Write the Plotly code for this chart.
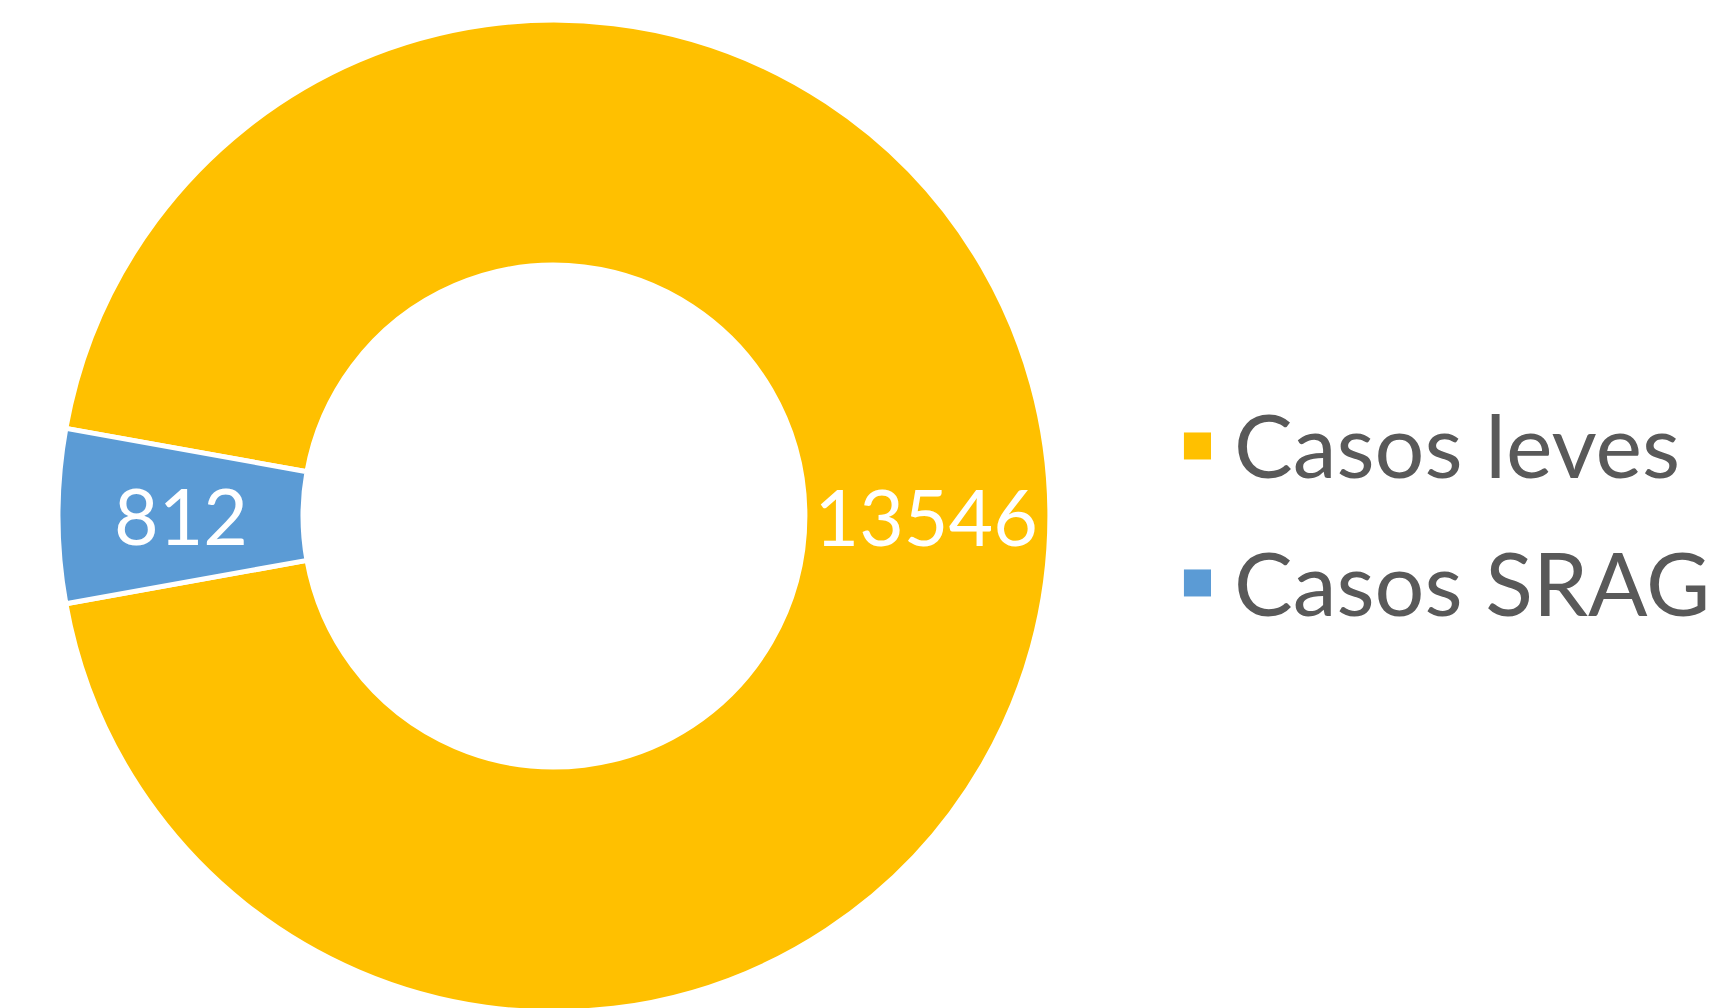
import math
import plotly.graph_objects as go

categories = ["Casos leves", "Casos SRAG"]
values = [13546, 812]
colors = ["#FFC000", "#5B9BD5"]

W, H = 1725, 1008
HOLE = 0.506
DOM_X = [0.029, 0.604]
DOM_Y = [0.004, 0.988]
LABEL_FONT = dict(family="Lato", size=77, color="white")

total = sum(values)
# center the small slice at 9 o'clock (clockwise direction, leves first)
rotation = 270 - 360 * (total - values[1] / 2) / total

fig = go.Figure()
fig.add_trace(go.Pie(
    labels=categories,
    values=values,
    sort=False,
    direction="clockwise",
    rotation=rotation,
    hole=HOLE,
    marker=dict(colors=colors, line=dict(color="white", width=5)),
    texttemplate="%{value:d}",
    textposition=["inside", "none"],
    insidetextorientation="radial",
    textfont=LABEL_FONT,
    domain=dict(x=DOM_X, y=DOM_Y),
    showlegend=False,
))

# label for the small slice placed at the middle of its ring segment
cx = (DOM_X[0] + DOM_X[1]) / 2
cy = (DOM_Y[0] + DOM_Y[1]) / 2
r_px = min((DOM_X[1] - DOM_X[0]) * W, (DOM_Y[1] - DOM_Y[0]) * H) / 2
r_mid = r_px * (1 + HOLE) / 2
cum = values[0]
ang = math.radians(rotation + 360 * (cum + values[1] / 2) / total)
fig.add_annotation(text=str(values[1]), xref="paper", yref="paper",
                   x=cx + r_mid * math.sin(ang) / W,
                   y=cy + r_mid * math.cos(ang) / H + 0.001,
                   xanchor="center", yanchor="middle", showarrow=False,
                   font=LABEL_FONT)

# legend built manually (large square markers)
leg_sq_y = [0.5655, 0.4296]
leg_txt_y = [0.5675, 0.4306]
for cat, col, ys, yt in zip(categories, colors, leg_sq_y, leg_txt_y):
    fig.add_shape(type="rect", xref="paper", yref="paper",
                  x0=0.6817, x1=0.6974, y0=ys - 0.0134, y1=ys + 0.0134,
                  fillcolor=col, line=dict(width=0))
    fig.add_annotation(text=cat, xref="paper", yref="paper", x=0.7096, y=yt,
                       xanchor="left", yanchor="middle", showarrow=False,
                       font=dict(family="Lato", size=88, color="#595959"))

fig.update_layout(
    width=W, height=H,
    margin=dict(l=0, r=0, t=0, b=0),
    paper_bgcolor="white", plot_bgcolor="white",
)
fig.write_html("out.html")
